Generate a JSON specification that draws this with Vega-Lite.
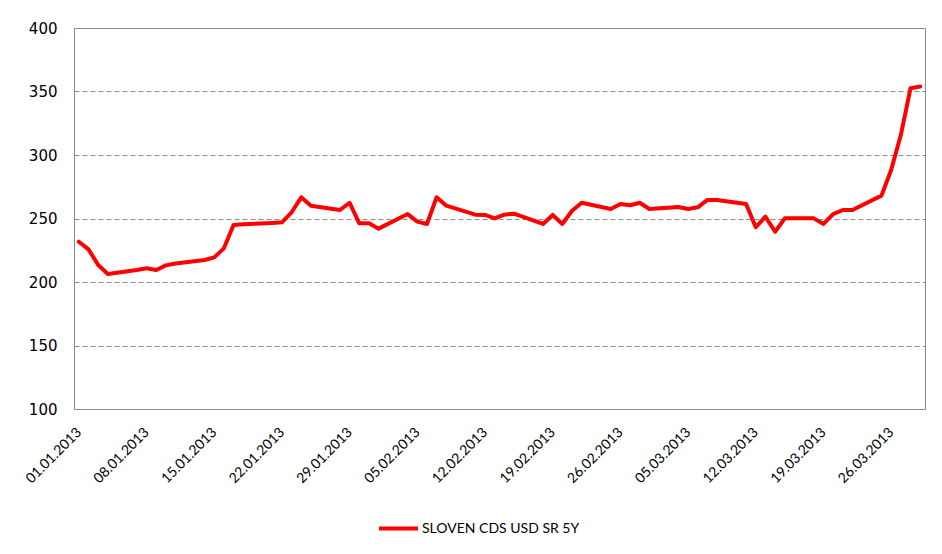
{
  "$schema": "https://vega.github.io/schema/vega-lite/v6.json",
  "width": 851,
  "height": 381,
  "autosize": "none",
  "padding": {"left": 74, "top": 28, "right": 17, "bottom": 145},
  "background": "white",
  "config": {
    "view": {"stroke": "#8c8c8c", "strokeWidth": 1}
  },
  "data": {
    "values": [
      {"date": "2013-01-01", "v": 231.7, "s": "SLOVEN CDS USD SR 5Y"},
      {"date": "2013-01-02", "v": 225.7, "s": "SLOVEN CDS USD SR 5Y"},
      {"date": "2013-01-03", "v": 213.4, "s": "SLOVEN CDS USD SR 5Y"},
      {"date": "2013-01-04", "v": 206.3, "s": "SLOVEN CDS USD SR 5Y"},
      {"date": "2013-01-07", "v": 209.5, "s": "SLOVEN CDS USD SR 5Y"},
      {"date": "2013-01-08", "v": 210.8, "s": "SLOVEN CDS USD SR 5Y"},
      {"date": "2013-01-09", "v": 209.4, "s": "SLOVEN CDS USD SR 5Y"},
      {"date": "2013-01-10", "v": 213.1, "s": "SLOVEN CDS USD SR 5Y"},
      {"date": "2013-01-11", "v": 214.5, "s": "SLOVEN CDS USD SR 5Y"},
      {"date": "2013-01-14", "v": 217.3, "s": "SLOVEN CDS USD SR 5Y"},
      {"date": "2013-01-15", "v": 219.4, "s": "SLOVEN CDS USD SR 5Y"},
      {"date": "2013-01-16", "v": 226.5, "s": "SLOVEN CDS USD SR 5Y"},
      {"date": "2013-01-17", "v": 244.9, "s": "SLOVEN CDS USD SR 5Y"},
      {"date": "2013-01-18", "v": 245.5, "s": "SLOVEN CDS USD SR 5Y"},
      {"date": "2013-01-21", "v": 246.5, "s": "SLOVEN CDS USD SR 5Y"},
      {"date": "2013-01-22", "v": 247.0, "s": "SLOVEN CDS USD SR 5Y"},
      {"date": "2013-01-23", "v": 254.9, "s": "SLOVEN CDS USD SR 5Y"},
      {"date": "2013-01-24", "v": 266.7, "s": "SLOVEN CDS USD SR 5Y"},
      {"date": "2013-01-25", "v": 260.1, "s": "SLOVEN CDS USD SR 5Y"},
      {"date": "2013-01-28", "v": 256.7, "s": "SLOVEN CDS USD SR 5Y"},
      {"date": "2013-01-29", "v": 262.4, "s": "SLOVEN CDS USD SR 5Y"},
      {"date": "2013-01-30", "v": 246.2, "s": "SLOVEN CDS USD SR 5Y"},
      {"date": "2013-01-31", "v": 246.2, "s": "SLOVEN CDS USD SR 5Y"},
      {"date": "2013-02-01", "v": 242.0, "s": "SLOVEN CDS USD SR 5Y"},
      {"date": "2013-02-04", "v": 253.5, "s": "SLOVEN CDS USD SR 5Y"},
      {"date": "2013-02-05", "v": 247.5, "s": "SLOVEN CDS USD SR 5Y"},
      {"date": "2013-02-06", "v": 245.7, "s": "SLOVEN CDS USD SR 5Y"},
      {"date": "2013-02-07", "v": 266.7, "s": "SLOVEN CDS USD SR 5Y"},
      {"date": "2013-02-08", "v": 260.1, "s": "SLOVEN CDS USD SR 5Y"},
      {"date": "2013-02-11", "v": 253.0, "s": "SLOVEN CDS USD SR 5Y"},
      {"date": "2013-02-12", "v": 252.8, "s": "SLOVEN CDS USD SR 5Y"},
      {"date": "2013-02-13", "v": 250.1, "s": "SLOVEN CDS USD SR 5Y"},
      {"date": "2013-02-14", "v": 253.0, "s": "SLOVEN CDS USD SR 5Y"},
      {"date": "2013-02-15", "v": 253.8, "s": "SLOVEN CDS USD SR 5Y"},
      {"date": "2013-02-18", "v": 245.7, "s": "SLOVEN CDS USD SR 5Y"},
      {"date": "2013-02-19", "v": 252.8, "s": "SLOVEN CDS USD SR 5Y"},
      {"date": "2013-02-20", "v": 245.7, "s": "SLOVEN CDS USD SR 5Y"},
      {"date": "2013-02-21", "v": 256.1, "s": "SLOVEN CDS USD SR 5Y"},
      {"date": "2013-02-22", "v": 262.4, "s": "SLOVEN CDS USD SR 5Y"},
      {"date": "2013-02-25", "v": 257.5, "s": "SLOVEN CDS USD SR 5Y"},
      {"date": "2013-02-26", "v": 261.4, "s": "SLOVEN CDS USD SR 5Y"},
      {"date": "2013-02-27", "v": 260.4, "s": "SLOVEN CDS USD SR 5Y"},
      {"date": "2013-02-28", "v": 262.4, "s": "SLOVEN CDS USD SR 5Y"},
      {"date": "2013-03-01", "v": 257.5, "s": "SLOVEN CDS USD SR 5Y"},
      {"date": "2013-03-04", "v": 259.0, "s": "SLOVEN CDS USD SR 5Y"},
      {"date": "2013-03-05", "v": 257.5, "s": "SLOVEN CDS USD SR 5Y"},
      {"date": "2013-03-06", "v": 258.8, "s": "SLOVEN CDS USD SR 5Y"},
      {"date": "2013-03-07", "v": 264.6, "s": "SLOVEN CDS USD SR 5Y"},
      {"date": "2013-03-08", "v": 264.6, "s": "SLOVEN CDS USD SR 5Y"},
      {"date": "2013-03-11", "v": 261.4, "s": "SLOVEN CDS USD SR 5Y"},
      {"date": "2013-03-12", "v": 243.1, "s": "SLOVEN CDS USD SR 5Y"},
      {"date": "2013-03-13", "v": 251.4, "s": "SLOVEN CDS USD SR 5Y"},
      {"date": "2013-03-14", "v": 239.6, "s": "SLOVEN CDS USD SR 5Y"},
      {"date": "2013-03-15", "v": 250.1, "s": "SLOVEN CDS USD SR 5Y"},
      {"date": "2013-03-18", "v": 250.1, "s": "SLOVEN CDS USD SR 5Y"},
      {"date": "2013-03-19", "v": 245.7, "s": "SLOVEN CDS USD SR 5Y"},
      {"date": "2013-03-20", "v": 253.5, "s": "SLOVEN CDS USD SR 5Y"},
      {"date": "2013-03-21", "v": 256.7, "s": "SLOVEN CDS USD SR 5Y"},
      {"date": "2013-03-22", "v": 256.7, "s": "SLOVEN CDS USD SR 5Y"},
      {"date": "2013-03-25", "v": 268.0, "s": "SLOVEN CDS USD SR 5Y"},
      {"date": "2013-03-26", "v": 288.2, "s": "SLOVEN CDS USD SR 5Y"},
      {"date": "2013-03-27", "v": 315.7, "s": "SLOVEN CDS USD SR 5Y"},
      {"date": "2013-03-28", "v": 352.5, "s": "SLOVEN CDS USD SR 5Y"},
      {"date": "2013-03-29", "v": 354.0, "s": "SLOVEN CDS USD SR 5Y"}
    ]
  },
  "mark": {"type": "line", "strokeWidth": 4, "strokeJoin": "round", "strokeCap": "round"},
  "encoding": {
    "x": {
      "field": "date",
      "type": "temporal",
      "scale": {
        "type": "utc",
        "domain": [
          {"year": 2012, "month": 12, "date": 31, "hours": 12, "utc": true},
          {"year": 2013, "month": 3, "date": 29, "hours": 12, "utc": true}
        ]
      },
      "axis": {
        "title": null,
        "format": "%d.%m.%Y",
        "values": [
          {"year": 2013, "month": 1, "date": 1, "utc": true},
          {"year": 2013, "month": 1, "date": 8, "utc": true},
          {"year": 2013, "month": 1, "date": 15, "utc": true},
          {"year": 2013, "month": 1, "date": 22, "utc": true},
          {"year": 2013, "month": 1, "date": 29, "utc": true},
          {"year": 2013, "month": 2, "date": 5, "utc": true},
          {"year": 2013, "month": 2, "date": 12, "utc": true},
          {"year": 2013, "month": 2, "date": 19, "utc": true},
          {"year": 2013, "month": 2, "date": 26, "utc": true},
          {"year": 2013, "month": 3, "date": 5, "utc": true},
          {"year": 2013, "month": 3, "date": 12, "utc": true},
          {"year": 2013, "month": 3, "date": 19, "utc": true},
          {"year": 2013, "month": 3, "date": 26, "utc": true}
        ],
        "labelAngle": -45,
        "labelAlign": "right",
        "labelBaseline": "middle",
        "labelPadding": 21,
        "labelFont": "Lato",
        "labelFontSize": 14,
        "labelColor": "#000000",
        "labelOverlap": false,
        "labelFlush": false,
        "ticks": false,
        "grid": false,
        "domainColor": "#8c8c8c"
      }
    },
    "y": {
      "field": "v",
      "type": "quantitative",
      "scale": {"domain": [100, 400], "nice": false, "zero": false},
      "axis": {
        "title": null,
        "values": [100, 150, 200, 250, 300, 350, 400],
        "labelFont": "DejaVu Sans",
        "labelFontSize": 15,
        "labelColor": "#000000",
        "labelPadding": 17,
        "ticks": false,
        "domainColor": "#8c8c8c",
        "gridColor": "#8c8c8c",
        "gridDash": [5, 3],
        "gridWidth": 1
      }
    },
    "color": {
      "field": "s",
      "type": "nominal",
      "scale": {"range": ["#ff0000"]},
      "legend": {
        "title": null,
        "orient": "none",
        "legendX": 303,
        "legendY": 479,
        "symbolType": "stroke",
        "symbolStrokeWidth": 4,
        "symbolSize": 1521,
        "labelFont": "Lato",
        "labelFontSize": 14,
        "labelColor": "#000000",
        "labelOffset": 2,
        "labelLimit": 400
      }
    }
  }
}
